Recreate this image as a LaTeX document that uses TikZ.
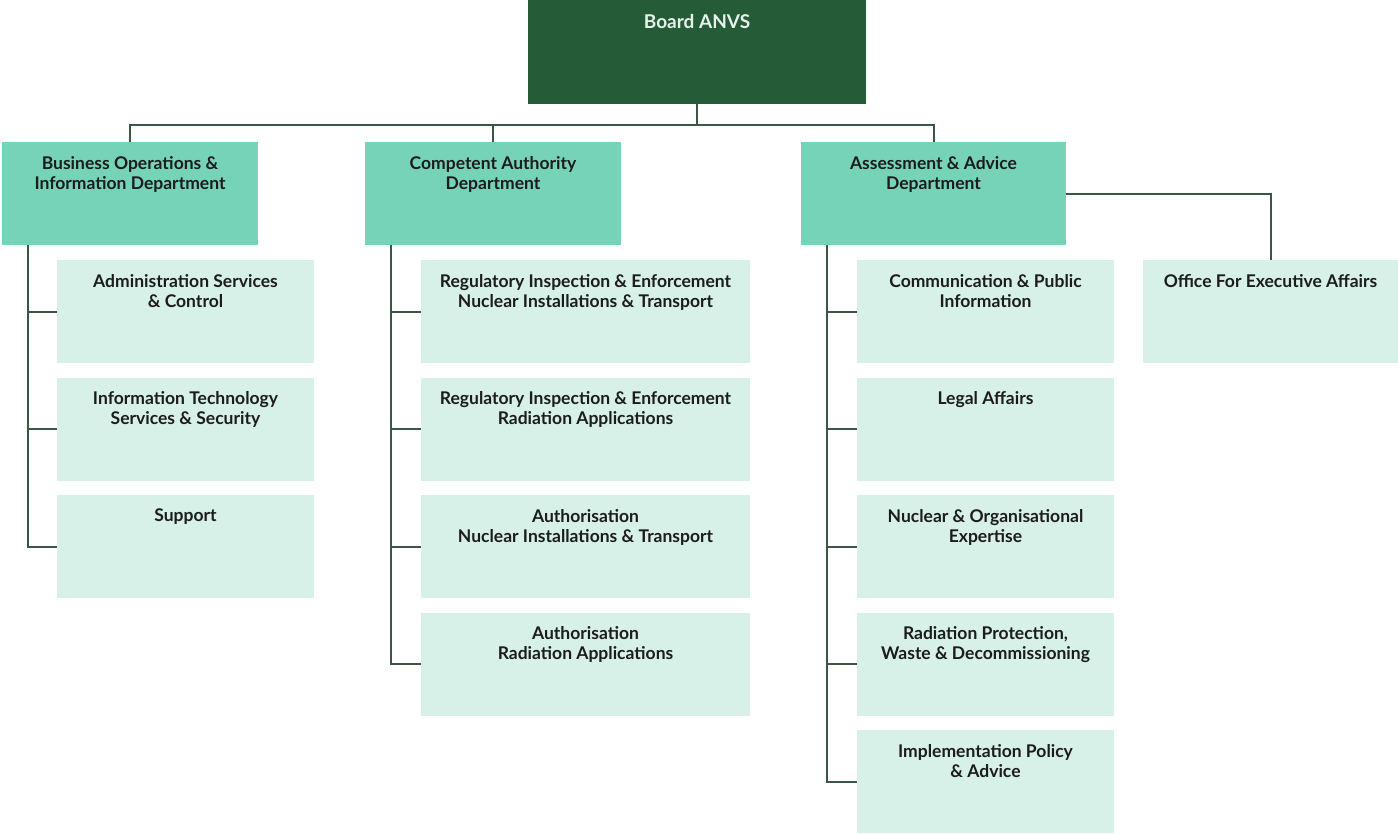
\documentclass[tikz,border=0pt]{standalone}
\usepackage{fontspec}
\setmainfont{Lato}
\usepackage{tikz}
\usetikzlibrary{calc}
\definecolor{BoardGreen}{HTML}{265B37}
\definecolor{DeptGreen}{HTML}{76D3B7}
\definecolor{UnitGreen}{HTML}{D7F0E8}
\definecolor{LineGreen}{HTML}{3B5645}
\definecolor{TextDark}{HTML}{1C1C1C}
\definecolor{TextLight}{HTML}{E6F3EC}
\newcommand\orgbox[7]{% name, x, y, width, height, box style, text
  \node[#6,minimum width=#4,minimum height=#5,anchor=north west] (#1) at (#2,#3) {};
  \node[boxtext,anchor=north,yshift=-14pt] (#1t) at (#1.north) {#7};
}

\begin{document}
\begin{tikzpicture}[x=1pt,y=-1pt]
		\tikzstyle{link}=[draw=LineGreen,line width=2pt]
		\tikzstyle{boardbox}=[fill=BoardGreen,inner sep=0pt,outer sep=0pt]
		\tikzstyle{deptbox}=[fill=DeptGreen,inner sep=0pt,outer sep=0pt]
		\tikzstyle{unitbox}=[fill=UnitGreen,inner sep=0pt,outer sep=0pt]
		\tikzstyle{boxtext}=[align=center,inner sep=0pt,text=TextDark,
				      font=\bfseries\fontsize{17.5}{20}\selectfont]

\useasboundingbox (0,0) rectangle (1398,835);

\orgbox{board}{528}{0}{338pt}{104pt}{boardbox}{\textcolor{TextLight}{\fontsize{19}{20}\selectfont Board ANVS}}

\orgbox{bod}{2}{142}{256pt}{103pt}{deptbox}{Business Operations \&\\Information Department}
\orgbox{cad}{365}{142}{256pt}{103pt}{deptbox}{Competent Authority\\Department}
\orgbox{aad}{801}{142}{265pt}{103pt}{deptbox}{Assessment \& Advice\\Department}

% business operations units
\orgbox{bo1}{57}{260}{257pt}{103pt}{unitbox}{Administration Services\\\& Control}
\orgbox{bo2}{57}{377.5}{257pt}{103pt}{unitbox}{Information Technology\\Services \& Security}
\orgbox{bo3}{57}{495}{257pt}{103pt}{unitbox}{Support}

% competent authority units
\orgbox{ca1}{421}{260}{329pt}{103pt}{unitbox}{Regulatory Inspection \& Enforcement\\Nuclear Installations \& Transport}
\orgbox{ca2}{421}{377.5}{329pt}{103pt}{unitbox}{Regulatory Inspection \& Enforcement\\Radiation Applications}
\orgbox{ca3}{421}{495}{329pt}{103pt}{unitbox}{Authorisation\\Nuclear Installations \& Transport}
\orgbox{ca4}{421}{612.5}{329pt}{103pt}{unitbox}{Authorisation\\Radiation Applications}

% assessment and advice units
\orgbox{aa1}{857}{260}{257pt}{103pt}{unitbox}{Communication \& Public\\Information}
\orgbox{aa2}{857}{377.5}{257pt}{103pt}{unitbox}{Legal Affairs}
\orgbox{aa3}{857}{495}{257pt}{103pt}{unitbox}{Nuclear \& Organisational\\Expertise}
\orgbox{aa4}{857}{612.5}{257pt}{103pt}{unitbox}{Radiation Protection,\\Waste \& Decommissioning}
\orgbox{aa5}{857}{730}{257pt}{103pt}{unitbox}{Implementation Policy\\\& Advice}

\orgbox{oea}{1143}{260}{255pt}{103pt}{unitbox}{Office For Executive Affairs}

% board to departments
\coordinate (bus) at (0,125);
\draw[link] (board.south) -- (board.south |- bus);
\draw[link] (bod.north) |- (bus -| aad.north) -- (aad.north);
\draw[link] (cad.north) -- (cad.north |- bus);
\draw[link] (aad.east) -| (oea.north);

% department trunks
\coordinate (botrunk) at ($(bod.south west)+(26,0)$);
\coordinate (catrunk) at ($(cad.south west)+(26,0)$);
\coordinate (aatrunk) at ($(aad.south west)+(26,0)$);

\draw[link] (botrunk) |- (bo3.west);
\foreach \i in {1,2}
  \draw[link] (botrunk |- bo\i.west) -- (bo\i.west);

\draw[link] (catrunk) |- (ca4.west);
\foreach \i in {1,...,3}
  \draw[link] (catrunk |- ca\i.west) -- (ca\i.west);

\draw[link] (aatrunk) |- (aa5.west);
\foreach \i in {1,...,4}
  \draw[link] (aatrunk |- aa\i.west) -- (aa\i.west);

\end{tikzpicture}
\end{document}
